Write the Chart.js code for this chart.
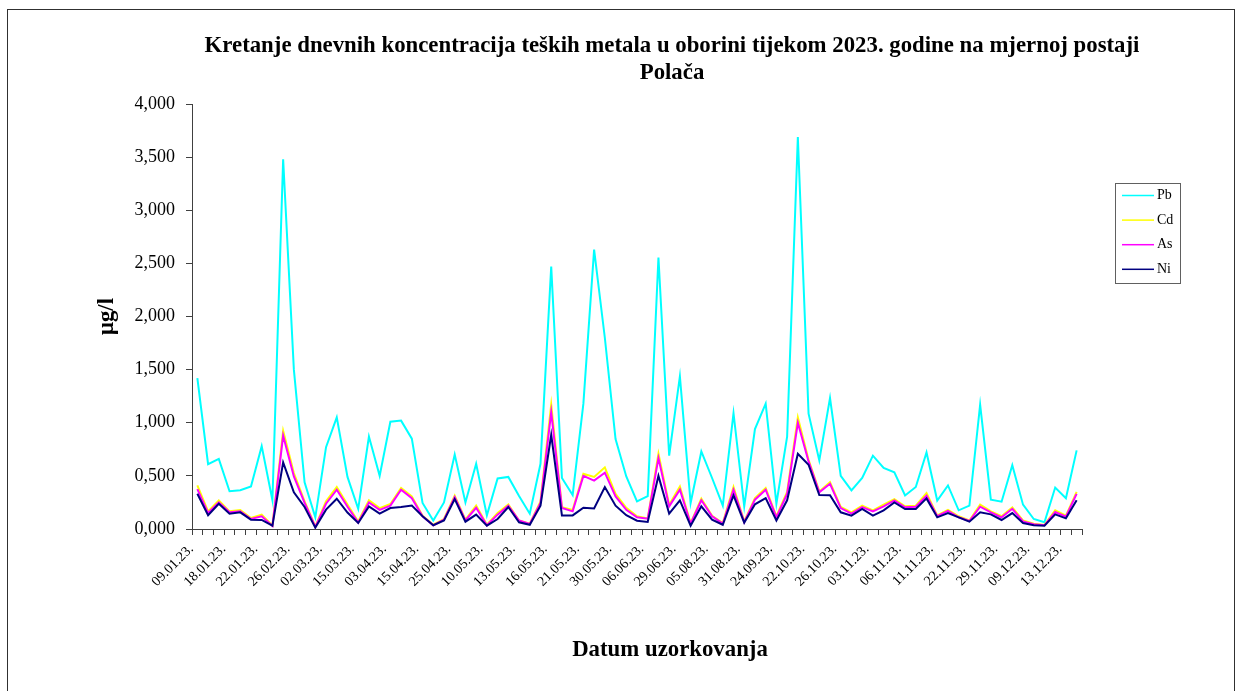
<!DOCTYPE html>
<html lang="hr">
<head>
<meta charset="utf-8">
<title>Teški metali u oborini – Polača 2023.</title>
<script src="https://cdn.jsdelivr.net/npm/chart.js@4.4.1/dist/chart.umd.min.js"></script>
<style>
  html, body { margin: 0; padding: 0; background: #ffffff; }
  #wrap { width: 1244px; height: 691px; position: relative; }
  canvas { display: block; }
</style>
</head>
<body>
<div id="wrap"><canvas id="chart" width="1244" height="691"></canvas></div>
<script>
// Sampling dates that are printed on the axis (every third sample)
const tickDates = ['09.01.23.', '18.01.23.', '22.01.23.', '26.02.23.', '02.03.23.', '15.03.23.',
  '03.04.23.', '15.04.23.', '25.04.23.', '10.05.23.', '13.05.23.', '16.05.23.', '21.05.23.',
  '30.05.23.', '06.06.23.', '29.06.23.', '05.08.23.', '31.08.23.', '24.09.23.', '22.10.23.',
  '26.10.23.', '03.11.23.', '06.11.23.', '11.11.23.', '22.11.23.', '29.11.23.', '09.12.23.',
  '13.12.23.'];
const sampleCount = 83;

// Daily concentrations in precipitation, µg/l
const pb = [1.42, 0.61, 0.66, 0.355, 0.365, 0.40, 0.78, 0.27, 3.48, 1.50, 0.44, 0.11, 0.77, 1.05,
  0.49, 0.19, 0.87, 0.50, 1.01, 1.02, 0.85, 0.245, 0.08, 0.25, 0.70, 0.25, 0.614, 0.128,
  0.476, 0.49, 0.31, 0.144, 0.614, 2.47, 0.48, 0.32, 1.18, 2.63, 1.80, 0.846, 0.495, 0.26,
  0.31, 2.555, 0.69, 1.436, 0.245, 0.73, 0.48, 0.22, 1.09, 0.213, 0.94, 1.18, 0.238, 0.87,
  3.69, 1.085, 0.646, 1.232, 0.50, 0.364, 0.48, 0.69, 0.574, 0.533, 0.315, 0.395, 0.72, 0.268,
  0.41, 0.176, 0.22, 1.17, 0.276, 0.257, 0.60, 0.229, 0.094, 0.063, 0.39, 0.29, 0.74];
const cd = [0.41, 0.166, 0.27, 0.166, 0.179, 0.103, 0.135, 0.034, 0.925, 0.527, 0.26, 0.025, 0.26, 0.395,
  0.23, 0.07, 0.27, 0.197, 0.235, 0.386, 0.307, 0.125, 0.04, 0.094, 0.313, 0.088, 0.22, 0.04,
  0.15, 0.23, 0.08, 0.05, 0.26, 1.17, 0.205, 0.18, 0.52, 0.49, 0.58, 0.33, 0.20, 0.12,
  0.10, 0.71, 0.229, 0.40, 0.056, 0.285, 0.125, 0.056, 0.395, 0.072, 0.29, 0.386, 0.12, 0.35,
  1.05, 0.652, 0.354, 0.44, 0.207, 0.157, 0.22, 0.176, 0.229, 0.28, 0.213, 0.22, 0.339, 0.128,
  0.18, 0.12, 0.08, 0.23, 0.166, 0.12, 0.204, 0.08, 0.05, 0.038, 0.176, 0.125, 0.35];
const as = [0.376, 0.15, 0.25, 0.157, 0.166, 0.094, 0.12, 0.028, 0.878, 0.495, 0.245, 0.019, 0.238, 0.37,
  0.21, 0.06, 0.25, 0.18, 0.22, 0.37, 0.29, 0.12, 0.035, 0.088, 0.30, 0.08, 0.20, 0.035,
  0.135, 0.22, 0.08, 0.047, 0.245, 1.10, 0.197, 0.166, 0.50, 0.455, 0.53, 0.307, 0.18, 0.11,
  0.097, 0.668, 0.213, 0.37, 0.05, 0.27, 0.12, 0.05, 0.37, 0.065, 0.276, 0.37, 0.11, 0.33,
  1.00, 0.636, 0.345, 0.426, 0.197, 0.144, 0.207, 0.166, 0.213, 0.27, 0.204, 0.21, 0.313, 0.12,
  0.17, 0.11, 0.075, 0.21, 0.157, 0.11, 0.19, 0.072, 0.044, 0.035, 0.16, 0.116, 0.33];
const ni = [0.332, 0.13, 0.238, 0.144, 0.157, 0.088, 0.085, 0.031, 0.627, 0.345, 0.207, 0.013, 0.182, 0.285,
  0.155, 0.056, 0.213, 0.144, 0.197, 0.207, 0.22, 0.12, 0.035, 0.08, 0.282, 0.069, 0.135, 0.031,
  0.094, 0.207, 0.063, 0.04, 0.22, 0.887, 0.128, 0.128, 0.20, 0.194, 0.395, 0.22, 0.13, 0.078,
  0.066, 0.50, 0.144, 0.27, 0.031, 0.213, 0.088, 0.04, 0.317, 0.06, 0.232, 0.29, 0.08, 0.27,
  0.708, 0.605, 0.32, 0.317, 0.157, 0.125, 0.188, 0.125, 0.176, 0.25, 0.188, 0.188, 0.288, 0.11,
  0.15, 0.11, 0.069, 0.157, 0.138, 0.085, 0.15, 0.056, 0.035, 0.031, 0.138, 0.10, 0.27];

// Category labels: a date on every third sample, blank in between
const categories = [];
for (let i = 0; i < sampleCount; i++) {
  categories.push(i % 3 === 0 && tickDates[i / 3] ? tickDates[i / 3] : '');
}

const titleLines = ['Kretanje dnevnih koncentracija teških metala u oborini tijekom 2023. godine na mjernoj postaji', 'Polača'];
const xTitle = 'Datum uzorkovanja';
const yTitle = 'μg/l';

const SERIF = "'Liberation Serif', 'Times New Roman', serif";
const AXIS_COLOR = '#404040';

// White page with a thin frame around the whole chart
const framePlugin = {
  id: 'frame',
  beforeDraw(chart) {
    const ctx = chart.ctx;
    ctx.save();
    ctx.fillStyle = '#ffffff';
    ctx.fillRect(0, 0, chart.width, chart.height);
    ctx.strokeStyle = '#303030';
    ctx.lineWidth = 1;
    ctx.strokeRect(7.5, 9.5, 1227, 690);
    ctx.restore();
  }
};

// Chart heading and x-axis caption, centred on the framed area
const captionsPlugin = {
  id: 'captions',
  afterDraw(chart) {
    const ctx = chart.ctx;
    ctx.save();
    ctx.fillStyle = '#000000';
    ctx.textAlign = 'center';
    ctx.textBaseline = 'middle';
    ctx.font = 'bold 22.8px ' + SERIF;
    titleLines.forEach((t, i) => ctx.fillText(t, 672, 46 + i * 27));
    ctx.fillText(xTitle, 670, 650);
    ctx.restore();
  }
};

// Boxed legend to the right of the plot, line samples followed by names
const boxLegendPlugin = {
  id: 'boxLegend',
  afterDraw(chart) {
    const ctx = chart.ctx;
    const x = 1115.5, y = 183.5, w = 65, h = 100;
    ctx.save();
    ctx.strokeStyle = '#606060';
    ctx.lineWidth = 1;
    ctx.strokeRect(x, y, w, h);
    ctx.font = '14px ' + SERIF;
    ctx.textBaseline = 'middle';
    ctx.textAlign = 'left';
    chart.data.datasets.forEach((ds, i) => {
      const cy = 195.5 + i * 24.6;
      ctx.strokeStyle = ds.borderColor;
      ctx.lineWidth = 1.5;
      ctx.beginPath();
      ctx.moveTo(1122, cy);
      ctx.lineTo(1154, cy);
      ctx.stroke();
      ctx.fillStyle = '#000000';
      ctx.fillText(ds.label, 1157, cy);
    });
    ctx.restore();
  }
};

const line = (label, data, color, order) => ({
  label, data, borderColor: color, backgroundColor: color,
  borderWidth: 2, pointRadius: 0, pointHoverRadius: 0, tension: 0, fill: false, order
});

new Chart(document.getElementById('chart'), {
  type: 'line',
  data: {
    labels: categories,
    datasets: [
      line('Pb', pb, '#00FFFF', 3),
      line('Cd', cd, '#FFFF00', 2),
      line('As', as, '#FF00FF', 1),
      line('Ni', ni, '#000080', 0)
    ]
  },
  options: {
    responsive: false,
    animation: false,
    events: [],
    layout: { padding: { left: 0, right: 162, top: 104, bottom: 0 } },
    plugins: {
      legend: { display: false },
      tooltip: { enabled: false },
      title: { display: false }
    },
    scales: {
      x: {
        offset: true,
        border: { display: true, color: AXIS_COLOR, width: 1 },
        grid: { offset: true, drawOnChartArea: false, drawTicks: true, tickLength: 6, color: AXIS_COLOR },
        ticks: {
          autoSkip: false, maxRotation: 45, minRotation: 45, padding: 6, labelOffset: -6,
          color: '#000000', font: { family: SERIF, size: 14 }
        },
        afterFit(scale) { scale.height = 162; }
      },
      y: {
        min: 0, max: 4,
        border: { display: true, color: AXIS_COLOR, width: 1 },
        grid: { drawOnChartArea: false, drawTicks: true, tickLength: 6, color: AXIS_COLOR },
        ticks: {
          stepSize: 0.5, padding: 11, color: '#000000',
          font: { family: SERIF, size: 18 },
          callback: (v) => Number(v).toFixed(3).replace('.', ',')
        },
        title: {
          display: true, text: yTitle, color: '#000000',
          font: { family: SERIF, size: 22.8, weight: 'bold', lineHeight: 1.2 },
          padding: { top: 93, bottom: 0 }
        },
        afterFit(scale) { scale.width = 192; }
      }
    }
  },
  plugins: [framePlugin, captionsPlugin, boxLegendPlugin]
});
</script>
</body>
</html>
